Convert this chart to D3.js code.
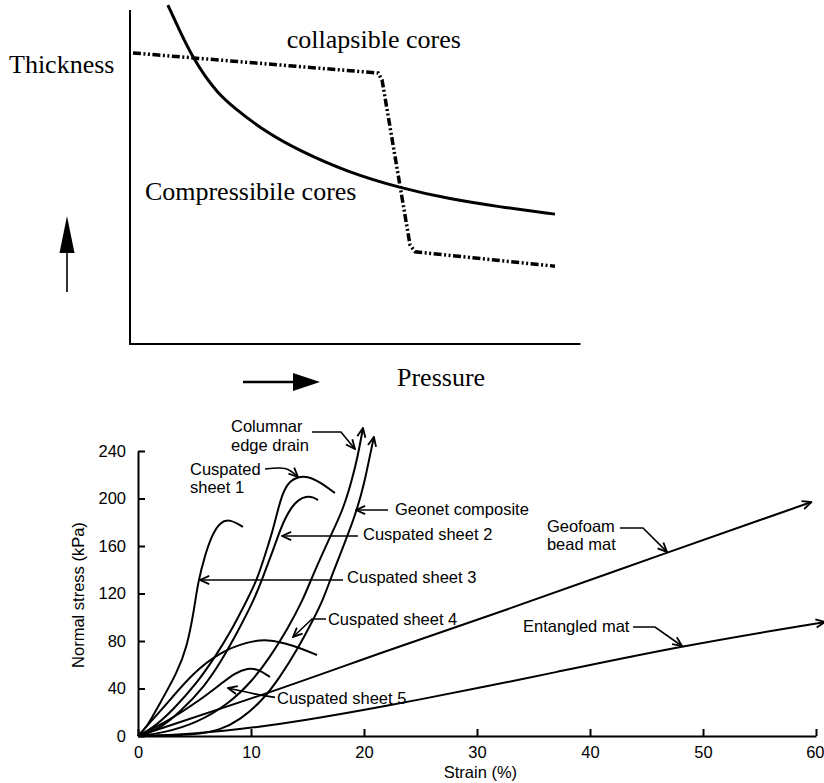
<!DOCTYPE html>
<html>
<head>
<meta charset="utf-8">
<script src="https://cdn.jsdelivr.net/npm/d3@7"></script>
<style>
body { margin: 0; background: #fff; }
svg { display: block; }
.serif { font-family: "Liberation Serif", "Times New Roman", serif; font-size: 26px; fill: #000; }
.sans { font-family: "Liberation Sans", Arial, Helvetica, sans-serif; font-size: 16.5px; fill: #000; }
</style>
</head>
<body>
<svg id="chart" width="824" height="783"></svg>
<script>
// ---- top panel: thickness vs pressure (schematic, arbitrary units 0-10)
const compressible = [[0.89, 9.97], [1.18, 9.18], [1.46, 8.47], [1.76, 7.88], [2.05, 7.41], [2.42, 6.97],
    [3.22, 6.21], [4.0, 5.68], [5.11, 5.06], [6.35, 4.59], [7.53, 4.26], [8.71, 4.03], [10.0, 3.82]]
const collapsible = [[0.07, 8.56], [5.84, 7.97], [5.93, 7.77], [6.59, 2.91], [6.71, 2.71], [10.0, 2.29]]

// ---- bottom panel: normal stress (kPa) vs strain (%)
const strainTicks = [0, 10, 20, 30, 40, 50, 60]
const stressTicks = [0, 40, 80, 120, 160, 200, 240]

const sheet1 = [[0, 0], [1.33, 6.7], [3.1, 21.9], [5.22, 44.6], [6.81, 66.5], [8.14, 86.7], [9.65, 114.5],
    [10.53, 131.4], [11.24, 152.4], [11.95, 173.5], [12.48, 194.5], [12.92, 207.2], [13.45, 214.7],
    [14.16, 218.1], [14.96, 218.9], [16.11, 213.9], [17.43, 204.6]]
const sheet2 = [[0, 0], [1.77, 5.1], [3.72, 20.2], [5.93, 42.1], [7.43, 64], [8.76, 86.7], [10.27, 114.5],
    [11.06, 133.9], [11.86, 154.1], [12.45, 170], [13.0, 183], [13.6, 193], [14.2, 199], [14.87, 201.7],
    [15.49, 201.3], [15.93, 198.7]]
const sheet3 = [[0, 0], [0.8, 7.6], [1.95, 27.8], [3.45, 53.1], [4.34, 74.9], [4.96, 106], [5.31, 129.7],
    [5.93, 152.4], [6.55, 169.3], [7.26, 180.2], [8.14, 182.7], [9.29, 176]]
const sheet4 = [[0, 0], [1.5, 16], [2.83, 30.3], [4.87, 53.1], [7.26, 70.7], [9.65, 79.2], [11.42, 81.7],
    [13.72, 76.6], [15.84, 68.2]]
const sheet5 = [[0, 0], [2.83, 13.5], [5.49, 30.3], [7.43, 44.6], [8.58, 53.1], [9.73, 57.3], [10.62, 56.4],
    [11.68, 49.7]]
const columnar = [[0, 0], [2.21, 2.5], [5.22, 10.9], [8.14, 27.8], [10.18, 47.2], [11.68, 66.5], [13.19, 89.3],
    [14.6, 114.5], [15.4, 133.9], [16.99, 167.6], [18.14, 190.3], [18.94, 215.6], [19.47, 236.6], [19.91, 259.4]]
const geonet = [[0, 0], [5.22, 0.8], [7.26, 5.1], [9.03, 13.5], [11.06, 30.3], [12.57, 49.7], [14.07, 72.4],
    [15.49, 97.7], [16.37, 114.5], [17.1, 133.9], [18.5, 167.6], [19.38, 190.3], [20.09, 215.6],
    [20.44, 232.4], [20.88, 251.8]]
const geofoam = [[0, 0], [13.7, 43], [21.4, 70], [32, 104], [46.8, 154.5], [59.6, 197]]
const entangled = [[0, 0], [5, 1.5], [11, 8], [14.3, 12.5], [21.4, 24], [32, 44], [35.6, 51], [48.1, 76], [60.8, 96]]

const curves = [sheet1, sheet2, sheet3, sheet4, sheet5]
const arrowCurves = [columnar, geonet, geofoam, entangled]

// callout labels: text lines, text anchor and leader polyline in (strain, stress)
const callouts = [
    {text: ["Columnar", "edge drain"], at: [8.23, 256], leader: [[15.4, 256], [17.96, 256], [19.2, 241.7]]},
    {text: ["Cuspated", "sheet 1"], at: [4.6, 219.8], leader: [[11.24, 224.8], [13.01, 225.2], [14.16, 218.1]], smooth: true},
    {text: ["Geonet composite"], at: [22.74, 186.1], leader: [[22.12, 190.3], [19.29, 190.3]]},
    {text: ["Cuspated sheet 2"], at: [19.91, 165.1], leader: [[19.47, 168.4], [12.74, 168.4]]},
    {text: ["Cuspated sheet 3"], at: [18.5, 128.8], leader: [[18.14, 131.4], [5.49, 131.4]]},
    {text: ["Cuspated sheet 4"], at: [16.81, 93.5], leader: [[16.64, 98.5], [15.4, 98.5], [13.72, 83.4]]},
    {text: ["Cuspated sheet 5"], at: [12.3, 26.9], leader: [[12.12, 32.5], [10.3, 35.5], [7.96, 40.4]], smooth: true},
    {text: ["Geofoam", "bead mat"], at: [36.19, 171.8], leader: [[42.65, 175.2], [44.69, 175.2], [46.81, 155.0]]},
    {text: ["Entangled mat"], at: [34.07, 87.6], leader: [[43.81, 91.8], [45.75, 91.8], [48.14, 75.8]]}
]

const svg = d3.select("#chart")

const defs = svg.append("defs")
defs.append("marker")
    .attr("id", "open-arrow")
    .attr("markerUnits", "userSpaceOnUse")
    .attr("viewBox", "0 0 12 12")
    .attr("markerWidth", 11)
    .attr("markerHeight", 11)
    .attr("refX", 11)
    .attr("refY", 6)
    .attr("orient", "auto")
    .append("path")
    .attr("d", "M1,1.5 L11,6 L1,10.5")
    .attr("fill", "none")
    .attr("stroke", "#000")
    .attr("stroke-width", 2)

// ================= top panel =================
const xT = d3.scaleLinear().domain([0, 10]).range([130, 555])
const yT = d3.scaleLinear().domain([0, 10]).range([344, 4])

const topPanel = svg.append("g").attr("class", "top-panel")

topPanel.append("path")
    .attr("d", `M${xT(0)},${yT(9.82)} V${yT(0)} H${xT(10.6)}`)
    .attr("fill", "none")
    .attr("stroke", "#000")
    .attr("stroke-width", 2)

const lineT = d3.line()
    .x(d => xT(d[0]))
    .y(d => yT(d[1]))

topPanel.append("path")
    .datum(compressible)
    .attr("d", lineT.curve(d3.curveBasis))
    .attr("fill", "none")
    .attr("stroke", "#000")
    .attr("stroke-width", 3)

topPanel.append("path")
    .datum(collapsible)
    .attr("d", lineT.curve(d3.curveLinear))
    .attr("fill", "none")
    .attr("stroke", "#000")
    .attr("stroke-width", 3.5)
    .attr("stroke-dasharray", "8,2.5,2,2.5,2,2.5")

topPanel.append("text").attr("class", "serif").attr("x", 9).attr("y", 73).text("Thickness")
topPanel.append("text").attr("class", "serif").attr("x", xT(3.69)).attr("y", yT(8.71)).text("collapsible cores")
topPanel.append("text").attr("class", "serif").attr("x", xT(0.35)).attr("y", yT(4.24)).text("Compressibile cores")
topPanel.append("text").attr("class", "serif").attr("x", 397).attr("y", 386).text("Pressure")

// direction arrows
topPanel.append("line").attr("x1", 67).attr("y1", 292).attr("x2", 67).attr("y2", 250)
    .attr("stroke", "#000").attr("stroke-width", 1.6)
topPanel.append("path").attr("d", "M67,216 L74.5,253 L59.5,253 Z").attr("fill", "#000")
topPanel.append("line").attr("x1", 243).attr("y1", 382).attr("x2", 296).attr("y2", 382)
    .attr("stroke", "#000").attr("stroke-width", 2.5)
topPanel.append("path").attr("d", "M320,382 L293,373 L293,391 Z").attr("fill", "#000")

// ================= bottom panel =================
const xS = d3.scaleLinear().domain([0, 60]).range([138, 816])
const yS = d3.scaleLinear().domain([0, 240]).range([736, 451])

const bottomPanel = svg.append("g").attr("class", "bottom-panel")

const xAxis = bottomPanel.append("g")
    .attr("transform", `translate(0,${yS(0)})`)
    .call(d3.axisBottom(xS).tickValues(strainTicks).tickSizeInner(-7).tickSizeOuter(0).tickPadding(10))
const yAxis = bottomPanel.append("g")
    .attr("transform", `translate(${xS(0)},0)`)
    .call(d3.axisLeft(yS).tickValues(stressTicks).tickSizeInner(-7).tickSizeOuter(0).tickPadding(12))

;[xAxis, yAxis].forEach(ax => {
    ax.attr("font-family", null).attr("font-size", null)
    ax.selectAll("path, line").attr("stroke", "#000").attr("stroke-width", 2)
    ax.selectAll("text").attr("class", "sans").attr("fill", "#000")
})
// last strain label sits at the right edge of the page
xAxis.selectAll(".tick text").filter(d => d === 60).attr("text-anchor", "end").attr("dx", 8)

bottomPanel.append("text").attr("class", "sans")
    .attr("x", xS(30.3)).attr("y", 778)
    .attr("text-anchor", "middle")
    .text("Strain (%)")
bottomPanel.append("text").attr("class", "sans")
    .attr("transform", `translate(84,${yS(118.7)}) rotate(-90)`)
    .attr("text-anchor", "middle")
    .text("Normal stress (kPa)")

const lineS = d3.line()
    .x(d => xS(d[0]))
    .y(d => yS(d[1]))
    .curve(d3.curveBasis)

curves.forEach(c => {
    bottomPanel.append("path")
        .datum(c)
        .attr("d", lineS)
        .attr("fill", "none")
        .attr("stroke", "#000")
        .attr("stroke-width", 2)
})
arrowCurves.forEach(c => {
    bottomPanel.append("path")
        .datum(c)
        .attr("d", lineS)
        .attr("fill", "none")
        .attr("stroke", "#000")
        .attr("stroke-width", 2)
        .attr("marker-end", "url(#open-arrow)")
})

const leaderLine = d3.line().x(d => xS(d[0])).y(d => yS(d[1]))

callouts.forEach(c => {
    const t = bottomPanel.append("text").attr("class", "sans")
        .attr("x", xS(c.at[0])).attr("y", yS(c.at[1]))
    c.text.forEach((s, i) => {
        t.append("tspan").attr("x", xS(c.at[0])).attr("dy", i ? 18.5 : 0).text(s)
    })
    bottomPanel.append("path")
        .datum(c.leader)
        .attr("d", leaderLine.curve(c.smooth ? d3.curveNatural : d3.curveLinear))
        .attr("fill", "none")
        .attr("stroke", "#000")
        .attr("stroke-width", 1.6)
        .attr("marker-end", "url(#open-arrow)")
})
</script>
</body>
</html>
